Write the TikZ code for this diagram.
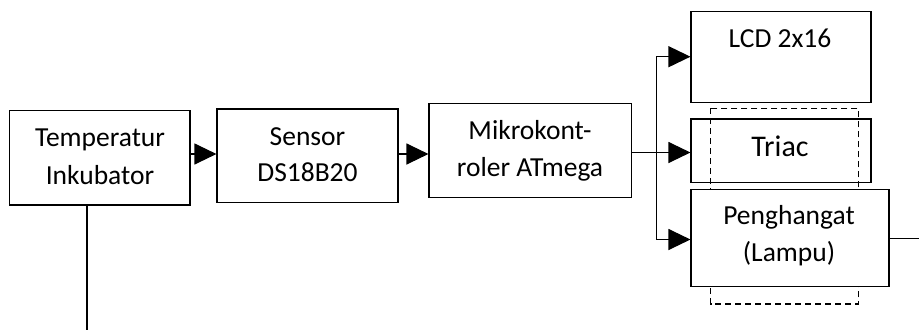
\documentclass[tikz,border=0pt]{standalone}
\usepackage{fontspec}
\setmainfont{Carlito}
\usetikzlibrary{arrows.meta}
\begin{document}
\begin{tikzpicture}[x=1pt,y=-1pt,
  blk/.style={draw=black,line width=1.1pt,inner sep=0pt,fill=white},
  txt/.style={anchor=base,inner sep=0pt,font=\fontsize{27.5}{38}\selectfont},
  arr/.style={line width=1.1pt,-{Triangle[length=22pt,width=21pt]}},
  ln/.style={line width=1.1pt}]
\useasboundingbox (0,0) rectangle (919,330);
% dashed frame
\draw[line width=1.1pt,dash pattern=on 6pt off 4pt] (710.7,108.3) rectangle (858.3,304);
% boxes
\node[blk,minimum width=180.5pt,minimum height=94.3pt] (tmp) at (99.75,157.85) {};
\node[blk,minimum width=181pt,minimum height=93.7pt] (sen) at (307.5,155.85) {};
\node[blk,minimum width=202.7pt,minimum height=94pt] (mic) at (530.35,150.3) {};
\node[blk,minimum width=180pt,minimum height=91pt] (lcd) at (781,57.2) {};
\node[draw=black,line width=1.1pt,inner sep=0pt,minimum width=180pt,minimum height=63.7pt] (tri) at (781,150.85) {};
\node[blk,minimum width=198pt,minimum height=97.4pt] (pen) at (790,238) {};
% texts
\node[txt] (t1) at (100,146) {Temperatur};
\node[txt] (t2) at (100,184.3) {Inkubator};
\node[txt] (s1) at (307.5,145) {Sensor};
\node[txt] (s2) at (307.5,181.7) {DS18B20};
\node[txt] (m1) at (530,139.3) {Mikrokont-};
\node[txt] (m2) at (530,176.7) {roler ATmega};
\node[txt] (l1) at (780,47.3) {LCD 2x16};
\node[txt,font=\fontsize{30}{38}\selectfont] (r1) at (780,156.7) {Triac};
\node[txt] (p1) at (789,224) {Penghangat};
\node[txt] (p2) at (789,261.7) {(Lampu)};
% connectors
\coordinate (ya) at (0,154);
\coordinate (yb) at (0,152.5);
\coordinate (bus) at (656.7,0);
\coordinate (yl) at (0,56.7);
\coordinate (yp) at (0,239.5);
\coordinate (fbr) at (919,238.3);
\coordinate (fbl) at (87,330);
\draw[arr] (tmp.east |- ya) -- (sen.west |- ya);
\draw[arr] (sen.east |- ya) -- (mic.west |- ya);
\draw[arr] (mic.east |- yb) -- (tri.west |- yb);
\draw[arr] (bus |- yp) -- (bus |- yl) -- (lcd.west |- yl);
\draw[arr] (bus |- yb) -- (bus |- yp) -- (pen.west |- yp);
\draw[ln] (pen.east |- fbr) -- (fbr);
\draw[ln] (fbl |- tmp.south) -- (fbl);
\end{tikzpicture}
\end{document}
